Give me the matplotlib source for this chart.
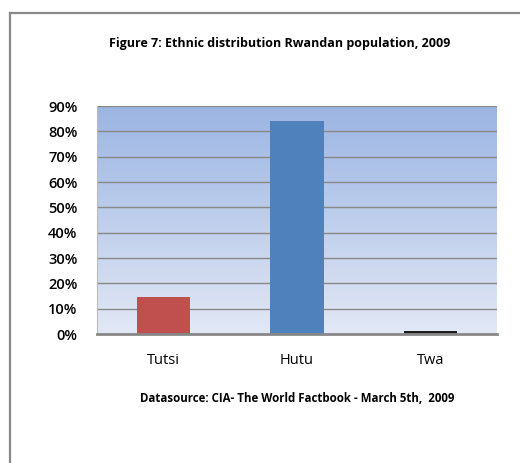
import numpy as np
import matplotlib.pyplot as plt
from matplotlib.lines import Line2D

categories = ['Tutsi', 'Hutu', 'Twa']
shares = [14.6, 84, 1]
bar_colors = ['#C0504D', '#4F81BD', '#1C1C1C']
yticks = list(range(0, 100, 10))
ytick_labels = ['%d%%' % v for v in yticks]

fig = plt.figure(figsize=(5.2, 4.63), dpi=100)
W, H = 520, 463

# plot area in pixels: left 97, right 497, top 106, bottom 334
ax = fig.add_axes([97 / W, 1 - 334 / H, 400 / W, 228 / H])

# gradient background
grad = np.linspace(0, 1, 256).reshape(-1, 1)
top = np.array([0x9B, 0xB5, 0xE3]) / 255
bot = np.array([0xE2, 0xE8, 0xF5]) / 255
img = top * (1 - grad[:, :, None]) + bot * grad[:, :, None]
ax.imshow(img, extent=[-0.5, 2.5, 0, 90], aspect='auto', origin='upper', zorder=0)

x = np.arange(len(categories))
for v in yticks[1:]:
    ax.axhline(v, color='#888888', lw=1.0, zorder=1)
ax.bar(x, shares, width=0.4, color=bar_colors, zorder=2)

ax.set_xlim(-0.5, 2.5)
ax.set_ylim(0, 90)
ax.set_yticks(yticks)
ax.set_yticklabels(ytick_labels, fontsize=10.5, family='Open Sans', fontweight='semibold')
ax.set_xticks(x)
ax.set_xticklabels(categories, fontsize=10.5, family='Open Sans')
ax.tick_params(axis='both', length=0)
ax.tick_params(axis='y', pad=14)
ax.tick_params(axis='x', pad=14)
for s in ['top', 'right']:
    ax.spines[s].set_visible(False)
ax.spines['left'].set_color('#BBBBBB')
ax.spines['bottom'].set_color('#888888')
ax.spines['bottom'].set_linewidth(2)

fig.text(280 / W, 1 - 44 / H, 'Figure 7: Ethnic distribution Rwandan population, 2009',
         ha='center', va='center', fontsize=9, fontweight='bold', family='Open Sans')
fig.text(297 / W, 1 - 398 / H, 'Datasource: CIA- The World Factbook - March 5th,  2009',
         ha='center', va='center', fontsize=8.3, fontweight='bold', family='Open Sans')

# outer frame (top and left edges visible)
fig.add_artist(Line2D([10 / W, 10 / W], [0, 1 - 13 / H], color='#8A8A8A', lw=1.6,
                      transform=fig.transFigure))
fig.add_artist(Line2D([10 / W, 1], [1 - 13 / H, 1 - 13 / H], color='#8A8A8A', lw=1.6,
                      transform=fig.transFigure))

fig.savefig('out.png', dpi=100)
